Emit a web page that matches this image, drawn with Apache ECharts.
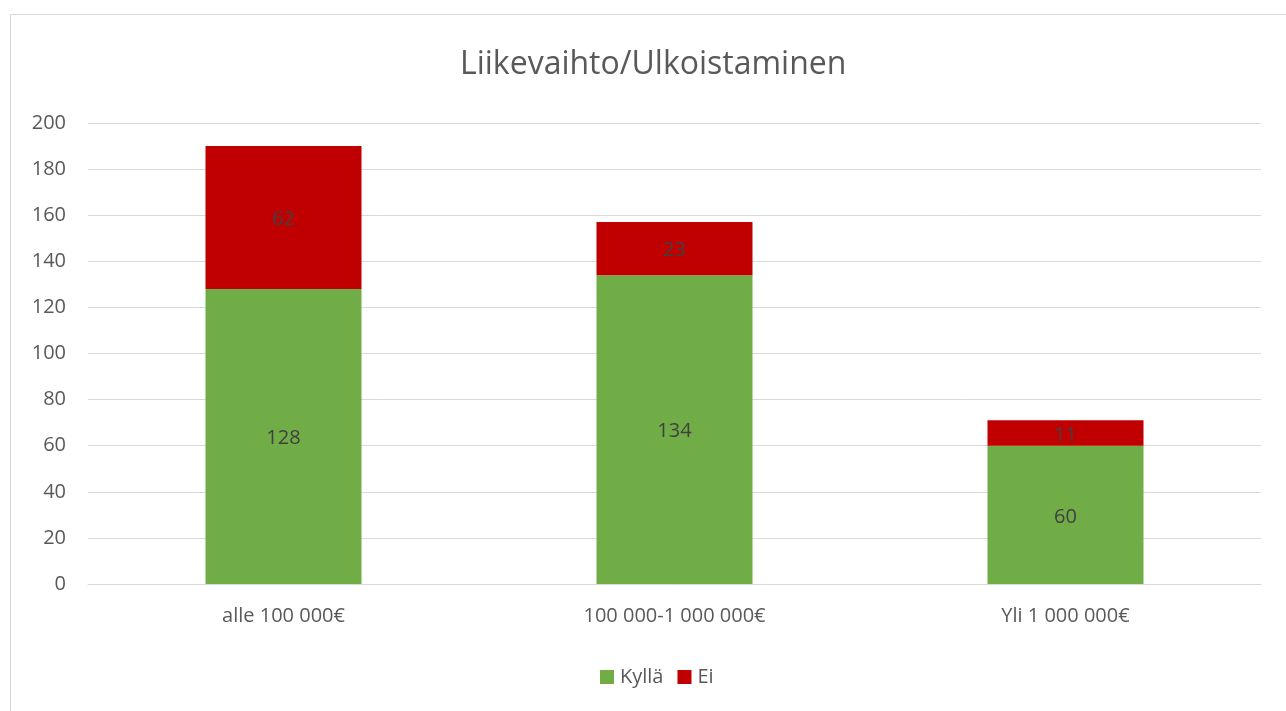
<!DOCTYPE html>
<html>
<head>
<meta charset="utf-8">
<script src="https://cdn.jsdelivr.net/npm/echarts@6/dist/echarts.min.js"></script>
<style>
	html, body { margin: 0; padding: 0; background: #fff; overflow: hidden; }
	#frame { position: absolute; left: 10px; top: 14px; width: 1300px; height: 720px; border: 1px solid #d9d9d9; }
	#chart { position: absolute; left: 0; top: 0; width: 1286px; height: 711px; }
</style>
</head>
<body>
<div id="frame"></div>
<div id="chart"></div>
<script>
	const categories = ['alle 100 000€', '100 000-1 000 000€', 'Yli 1 000 000€'];
	const kylla = [128, 134, 60];
	const ei = [62, 23, 11];
	const yTicks = { min: 0, max: 200, interval: 20 };

	const green = '#70ad47';
	const red = '#c00000';
	const font = '"Open Sans", "Noto Sans", sans-serif';

	const myChart = echarts.init(document.getElementById('chart'));

	const option = {
		animation: false,
		textStyle: { fontFamily: font },
		title: {
			text: 'Liikevaihto/Ulkoistaminen',
			left: 455,
			top: 44,
			textStyle: { fontFamily: font, fontSize: 32, fontWeight: 'normal', color: '#595959' }
		},
		legend: {
			bottom: 19,
			left: 595,
			itemWidth: 14,
			itemHeight: 14,
			itemGap: 14,
			icon: 'rect',
			textStyle: { fontFamily: font, fontSize: 20, color: '#595959', padding: [0, 0, 0, 1] },
			data: ['Kyllä', 'Ei']
		},
		grid: {
			left: 88,
			right: 25,
			top: 123,
			bottom: 127,
			containLabel: false
		},
		xAxis: {
			type: 'category',
			data: categories,
			axisLine: { show: true, lineStyle: { color: '#d9d9d9', width: 1 } },
			axisTick: { show: false },
			axisLabel: { fontFamily: font, fontSize: 20, color: '#595959', margin: 22 }
		},
		yAxis: {
			type: 'value',
			min: yTicks.min,
			max: yTicks.max,
			interval: yTicks.interval,
			axisLine: { show: false },
			axisTick: { show: false },
			axisLabel: { fontFamily: font, fontSize: 20, color: '#595959', margin: 22 },
			splitLine: { lineStyle: { color: '#d9d9d9', width: 1 } }
		},
		series: [{
				name: 'Kyllä',
				type: 'bar',
				stack: 'total',
				barWidth: 156,
				data: kylla,
				itemStyle: { color: green },
				label: {
					show: true,
					position: 'inside',
					offset: [0, 2],
					fontFamily: font,
					fontSize: 20,
					color: '#404040'
				}
			},
			{
				name: 'Ei',
				type: 'bar',
				stack: 'total',
				barWidth: 156,
				data: ei,
				itemStyle: { color: red },
				label: {
					show: true,
					position: 'inside',
					offset: [0, 2],
					fontFamily: font,
					fontSize: 20,
					color: '#404040'
				}
			}
		]
	};

	myChart.setOption(option);
</script>
</body>
</html>
